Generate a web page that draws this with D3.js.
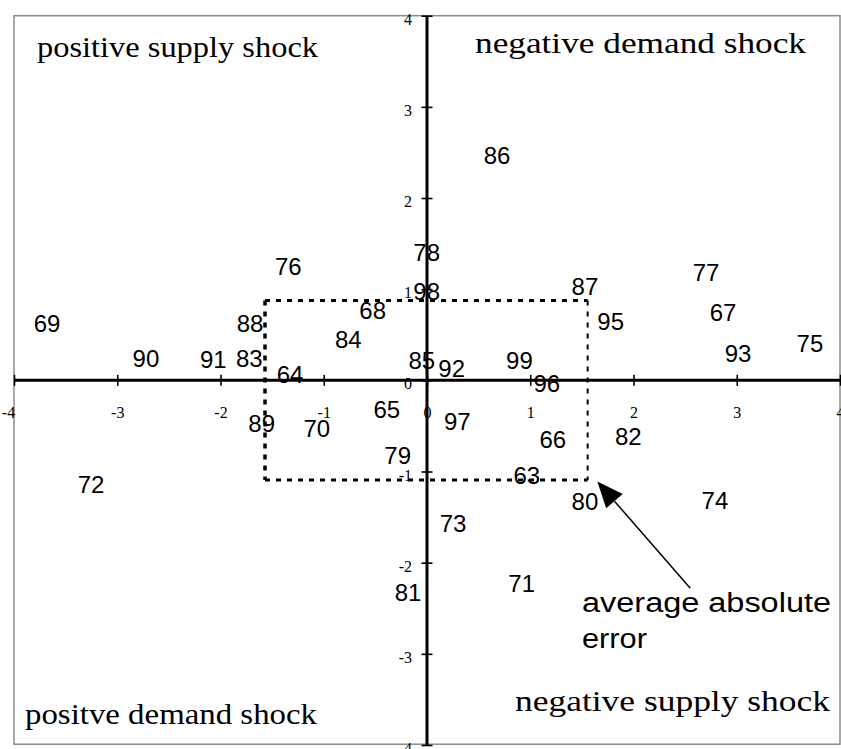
<!DOCTYPE html>
<html>
<head>
<meta charset="utf-8">
<script src="https://cdn.jsdelivr.net/npm/d3@7"></script>
<style>
  html, body { margin: 0; padding: 0; background: #fff; }
  svg { display: block; }
</style>
</head>
<body>
<svg id="chart" width="841" height="749"></svg>
<script>
// ---- data ----
const years = ["63","64","65","66","67","68","69","70","71","72","73","74","75","76","77","78","79","80","81","82","83","84","85","86","87","88","89","90","91","92","93","95","96","97","98","99"];
const xValues = [0.966,-1.327,-0.390,1.218,2.867,-0.526,-3.680,-1.068,0.917,-3.254,0.252,2.789,3.709,-1.343,2.702,-0.003,-0.284,1.530,-0.184,1.950,-1.721,-0.762,-0.051,0.678,1.530,-1.714,-1.601,-2.722,-2.069,0.239,3.012,1.779,1.160,0.293,-0.003,0.895];
const yValues = [-1.038,0.069,-0.318,-0.647,0.749,0.771,0.628,-0.526,-2.226,-1.137,-1.565,-1.319,0.409,1.246,1.187,1.400,-0.819,-1.322,-2.321,-0.610,0.241,0.450,0.223,2.470,1.026,0.625,-0.471,0.245,0.230,0.131,0.299,0.643,-0.033,-0.455,0.972,0.223];
const xTicks = [-4,-3,-2,-1,0,1,2,3,4];
const yTicks = [-4,-3,-2,-1,0,1,2,3,4];
const quadrantLabels = ["positive supply shock","negative demand shock","positve demand shock","negative supply shock"];
const errorBoxX = [-1.569, 1.556];
const errorBoxY = [-1.093, 0.877];
const annotationLines = ["average absolute","error"];

// ---- layout ----
const svg = d3.select("#chart");
const x = d3.scaleLinear().domain([-4,4]).range([14,840]);
const y = d3.scaleLinear().domain([-4,4]).range([745,15.7]);
const fmt = d => String(d);  // plain hyphen-minus as in the reference

// outer border
svg.append("rect")
  .attr("x", 14).attr("y", 15.7).attr("width", 826).attr("height", 728.5)
  .attr("fill", "none").attr("stroke", "#8c8c8c").attr("stroke-width", 1.5);

// quadrant labels
const qPos = [
  {x: 37, y: 57, w: 281},
  {x: 475, y: 53, w: 331},
  {x: 25, y: 724, w: 292},
  {x: 515, y: 711, w: 315}
];
svg.selectAll("text.quad").data(quadrantLabels).join("text")
  .attr("class","quad")
  .attr("x",(d,i)=>qPos[i].x).attr("y",(d,i)=>qPos[i].y)
  .attr("textLength",(d,i)=>qPos[i].w).attr("lengthAdjust","spacingAndGlyphs")
  .attr("font-family","'Liberation Serif','Times New Roman',serif")
  .attr("font-size",30).attr("fill","#000")
  .text(d=>d);

// error box (dotted)
const boxG = svg.append("g").attr("stroke","#000").attr("fill","none").attr("stroke-dasharray","5,6");
boxG.append("line").attr("x1",x(errorBoxX[0])).attr("x2",x(errorBoxX[1])).attr("y1",y(errorBoxY[1])).attr("y2",y(errorBoxY[1])).attr("stroke-width",3);
boxG.append("line").attr("x1",x(errorBoxX[0])).attr("x2",x(errorBoxX[1])).attr("y1",y(errorBoxY[0])).attr("y2",y(errorBoxY[0])).attr("stroke-width",3);
boxG.append("line").attr("x1",x(errorBoxX[0])).attr("x2",x(errorBoxX[0])).attr("y1",y(errorBoxY[1])).attr("y2",y(errorBoxY[0])).attr("stroke-width",3.5);
boxG.append("line").attr("x1",x(errorBoxX[1])).attr("x2",x(errorBoxX[1])).attr("y1",y(errorBoxY[1])).attr("y2",y(errorBoxY[0])).attr("stroke-width",2);

// x axis
const xAxis = svg.append("g").attr("transform",`translate(0,${y(0)})`)
  .call(d3.axisBottom(x).tickValues(xTicks).tickSize(0).tickFormat(fmt));
xAxis.attr("font-size",16).attr("font-family","'Liberation Serif','Times New Roman',serif");
xAxis.select(".domain").attr("stroke","#000").attr("stroke-width",3).attr("d",`M${x(-4)},0H${x(4)}`);
xAxis.selectAll(".tick line").attr("y1",-5.5).attr("y2",5.5).attr("stroke","#000").attr("stroke-width",1.6);
xAxis.selectAll(".tick text").attr("y",32).attr("dy","0.35em")
  .attr("dx",d=>d===-4?-6:0)
  .style("font-family","'Liberation Serif','Times New Roman',serif").style("font-size","16px").attr("fill","#000");

// y axis
const yAxis = svg.append("g").attr("transform",`translate(${x(0)},0)`)
  .call(d3.axisLeft(y).tickValues(yTicks).tickSize(0).tickFormat(fmt));
yAxis.attr("font-size",16).attr("font-family","'Liberation Serif','Times New Roman',serif");
yAxis.select(".domain").attr("stroke","#000").attr("stroke-width",3).attr("d",`M0,${y(4)}V${y(-4)}`);
yAxis.selectAll(".tick line").attr("x1",-5.5).attr("x2",5.5).attr("stroke","#000").attr("stroke-width",1.6);
yAxis.selectAll(".tick text").attr("x",-15).attr("y",3).attr("dy","0.35em")
  .style("font-family","'Liberation Serif','Times New Roman',serif").style("font-size","16px").attr("fill","#000");

// data labels (years)
svg.selectAll("text.yr").data(years).join("text")
  .attr("class","yr")
  .attr("x",(d,i)=>x(xValues[i])).attr("y",(d,i)=>y(yValues[i]))
  .attr("text-anchor","middle").attr("dy","0.36em")
  .attr("font-family","'Liberation Sans',Arial,sans-serif").attr("font-size",24).attr("fill","#000")
  .text(d=>d);

// arrow annotation
const tip = [x(1.650), y(-1.110)];
const tail = [x(2.550), y(-2.280)];
const ang = Math.atan2(tip[1]-tail[1], tip[0]-tail[0]);
const headLen = 26, headW = 11;
const bx = tip[0]-headLen*Math.cos(ang), by = tip[1]-headLen*Math.sin(ang);
svg.append("line").attr("x1",tail[0]).attr("y1",tail[1]).attr("x2",bx).attr("y2",by)
  .attr("stroke","#000").attr("stroke-width",1.5);
svg.append("path")
  .attr("d",`M${tip[0]},${tip[1]}L${bx+headW*Math.sin(ang)},${by-headW*Math.cos(ang)}L${bx-headW*Math.sin(ang)},${by+headW*Math.cos(ang)}Z`)
  .attr("fill","#000");

const annPos = [{x:582,y:612,w:249},{x:582,y:648,w:65}];
svg.selectAll("text.ann").data(annotationLines).join("text")
  .attr("class","ann")
  .attr("x",(d,i)=>annPos[i].x).attr("y",(d,i)=>annPos[i].y)
  .attr("textLength",(d,i)=>annPos[i].w).attr("lengthAdjust","spacingAndGlyphs")
  .attr("font-family","'Liberation Sans',Arial,sans-serif").attr("font-size",27).attr("fill","#000")
  .text(d=>d);
</script>
</body>
</html>
